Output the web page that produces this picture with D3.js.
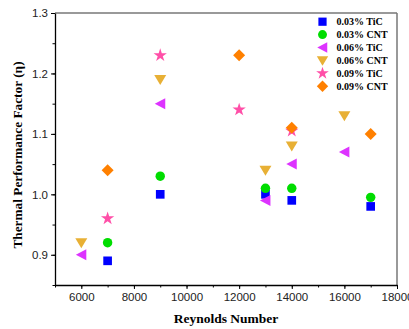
<!DOCTYPE html>
<meta charset="utf-8">
<script src="https://d3js.org/d3.v7.min.js"></script>
<style>
  body { margin: 0; background: #fff; }
</style>
<div id="my_dataviz"></div>
<script>

// Data
var reynolds = {
  tic03: [7000, 9000, 13000, 14000, 17000],
  cnt03: [7000, 9000, 13000, 14000, 17000],
  tic06: [6000, 9000, 13000, 14000, 16000],
  cnt06: [6000, 9000, 13000, 14000, 16000],
  tic09: [7000, 9000, 12000, 14000],
  cnt09: [7000, 12000, 14000, 17000]
};
var tic03 = [0.89, 1.00, 1.00, 0.99, 0.98];
var cnt03 = [0.92, 1.03, 1.01, 1.01, 0.995];
var tic06 = [0.90, 1.15, 0.99, 1.05, 1.07];
var cnt06 = [0.92, 1.19, 1.04, 1.08, 1.13];
var tic09 = [0.96, 1.23, 1.14, 1.105];
var cnt09 = [1.04, 1.23, 1.11, 1.10];

var seriesNames = ["0.03% TiC", "0.03% CNT", "0.06% TiC", "0.06% CNT", "0.09% TiC", "0.09% CNT"];
var xTicks = [6000, 8000, 10000, 12000, 14000, 16000, 18000];
var yTicks = [0.9, 1.0, 1.1, 1.2, 1.3];

// build series table
var series = [
  {name: seriesNames[0], xs: reynolds.tic03, ys: tic03, color: "#0000ff", shape: "square"},
  {name: seriesNames[1], xs: reynolds.cnt03, ys: cnt03, color: "#00dd00", shape: "circle"},
  {name: seriesNames[2], xs: reynolds.tic06, ys: tic06, color: "#dd33ff", shape: "left"},
  {name: seriesNames[3], xs: reynolds.cnt06, ys: cnt06, color: "#e8b035", shape: "down"},
  {name: seriesNames[4], xs: reynolds.tic09, ys: tic09, color: "#ff4fa8", shape: "star"},
  {name: seriesNames[5], xs: reynolds.cnt09, ys: cnt09, color: "#ff8000", shape: "diamond"}
];

var margin = {top: 13, right: 12, bottom: 44, left: 55},
    width = 409 - margin.left - margin.right,
    height = 329 - margin.top - margin.bottom;

var svg = d3.select("#my_dataviz")
  .append("svg")
    .attr("width", 409)
    .attr("height", 329)
  .append("g")
    .attr("transform", "translate(" + margin.left + "," + margin.top + ")");

var x = d3.scaleLinear().domain([5000, 18000]).range([0, width]);
var y = d3.scaleLinear().domain([0.85, 1.3]).range([height, 0]);

// frame: top & right in gray
svg.append("line").attr("x1", 0).attr("x2", width).attr("y1", 0).attr("y2", 0)
  .attr("stroke", "#777").attr("stroke-width", 1.5);
svg.append("line").attr("x1", width).attr("x2", width).attr("y1", 0).attr("y2", height)
  .attr("stroke", "#777").attr("stroke-width", 1.5);

// minor ticks
svg.append("g")
  .attr("transform", "translate(0," + height + ")")
  .call(d3.axisBottom(x).tickValues(d3.range(5000, 18001, 1000)).tickSize(2.5).tickFormat(""))
  .call(function(g) { g.select(".domain").remove(); });
svg.append("g")
  .call(d3.axisLeft(y).tickValues(d3.range(0.85, 1.301, 0.05)).tickSize(2.5).tickFormat(""))
  .call(function(g) { g.select(".domain").remove(); });

// major axes
var xAxis = svg.append("g")
  .attr("transform", "translate(0," + height + ")")
  .call(d3.axisBottom(x).tickValues(xTicks).tickSize(4).tickPadding(4).tickSizeOuter(0).tickFormat(d3.format("d")));
var yAxis = svg.append("g")
  .call(d3.axisLeft(y).tickValues(yTicks).tickSize(4).tickPadding(3).tickSizeOuter(0).tickFormat(d3.format(".1f")));

[xAxis, yAxis].forEach(function(a) {
  a.select(".domain").attr("stroke", "#000").attr("stroke-width", 1.3);
  a.selectAll("text").style("font-family", "Liberation Sans, Arial, sans-serif")
    .style("font-size", "11.5px").attr("fill", "#222");
});

// axis titles
svg.append("text")
  .attr("x", width / 2)
  .attr("y", height + 38)
  .attr("text-anchor", "middle")
  .style("font-family", "Liberation Serif, Times New Roman, serif")
  .style("font-weight", "bold")
  .style("font-size", "13.5px")
  .text("Reynolds Number");

svg.append("text")
  .attr("transform", "translate(-33," + (height / 2 + 6) + ") rotate(-90)")
  .attr("text-anchor", "middle")
  .style("font-family", "Liberation Serif, Times New Roman, serif")
  .style("font-weight", "bold")
  .style("font-size", "13.3px")
  .text("Thermal Performance Factor (\u03b7)");

// marker shapes
function symbolPath(shape) {
  if (shape === "square") return d3.symbol().type(d3.symbolSquare).size(75)();
  if (shape === "circle") return d3.symbol().type(d3.symbolCircle).size(70)();
  if (shape === "star") return d3.symbol().type(d3.symbolStar).size(55)();
  if (shape === "diamond") return "M0,-6L6,0L0,6L-6,0Z";
  if (shape === "left") return "M-5.5,0L5,-5.5L5,5.5Z";
  if (shape === "down") return "M-6,-4.5L6,-4.5L0,5.5Z";
}

series.forEach(function(s) {
  svg.append("g")
    .selectAll("path")
    .data(s.xs.map(function(v, i) { return [v, s.ys[i]]; }))
    .enter()
    .append("path")
      .attr("d", symbolPath(s.shape))
      .attr("transform", function(d) { return "translate(" + x(d[0]) + "," + y(d[1]) + ")"; })
      .attr("fill", s.color);
});

// legend
var legend = svg.append("g").attr("transform", "translate(" + (322.5 - margin.left) + "," + (21.7 - margin.top) + ")");
series.forEach(function(s, i) {
  var row = legend.append("g").attr("transform", "translate(0," + (i * 12.9) + ")");
  row.append("path").attr("d", symbolPath(s.shape)).attr("fill", s.color)
    .attr("transform", "scale(0.95)");
  row.append("text")
    .attr("x", 14)
    .attr("y", 3.5)
    .style("font-family", "Liberation Serif, Times New Roman, serif")
    .style("font-weight", "bold")
    .style("font-size", "10px")
    .text(s.name);
});

</script>
